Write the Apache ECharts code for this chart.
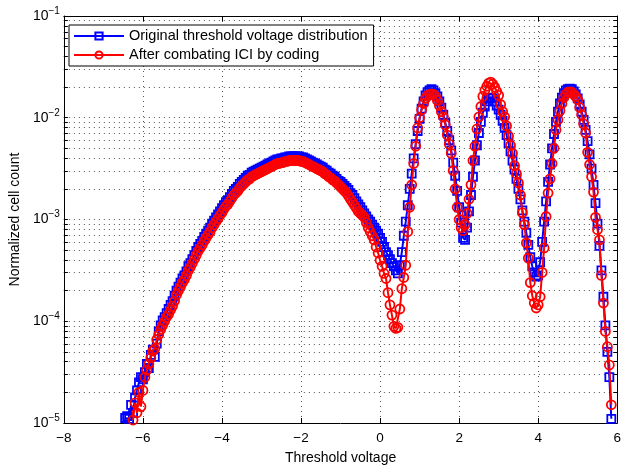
<!DOCTYPE html>
<html><head><meta charset="utf-8">
<script src="https://cdn.jsdelivr.net/npm/echarts@6/dist/echarts.min.js"></script>
<style>html,body{margin:0;padding:0;background:#fff}#c{width:624px;height:470px}</style>
</head><body><div id="c"></div>
<script>
const xs = [
-6.45,-6.4,-6.35,-6.3,-6.25,-6.2,-6.15,-6.1,-6.05,-6,
-5.95,-5.9,-5.85,-5.8,-5.75,-5.7,-5.65,-5.6,-5.55,-5.5,
-5.45,-5.4,-5.35,-5.3,-5.25,-5.2,-5.15,-5.1,-5.05,-5,
-4.95,-4.9,-4.85,-4.8,-4.75,-4.7,-4.65,-4.6,-4.55,-4.5,
-4.45,-4.4,-4.35,-4.3,-4.25,-4.2,-4.15,-4.1,-4.05,-4,
-3.95,-3.9,-3.85,-3.8,-3.75,-3.7,-3.65,-3.6,-3.55,-3.5,
-3.45,-3.4,-3.35,-3.3,-3.25,-3.2,-3.15,-3.1,-3.05,-3,
-2.95,-2.9,-2.85,-2.8,-2.75,-2.7,-2.65,-2.6,-2.55,-2.5,
-2.45,-2.4,-2.35,-2.3,-2.25,-2.2,-2.15,-2.1,-2.05,-2,
-1.95,-1.9,-1.85,-1.8,-1.75,-1.7,-1.65,-1.6,-1.55,-1.5,
-1.45,-1.4,-1.35,-1.3,-1.25,-1.2,-1.15,-1.1,-1.05,-1,
-0.95,-0.9,-0.85,-0.8,-0.75,-0.7,-0.65,-0.6,-0.55,-0.5,
-0.45,-0.4,-0.35,-0.3,-0.25,-0.2,-0.15,-0.1,-0.05,0,
0.05,0.1,0.15,0.2,0.25,0.3,0.35,0.4,0.45,0.5,
0.55,0.6,0.65,0.7,0.75,0.8,0.85,0.9,0.95,1,
1.05,1.1,1.15,1.2,1.25,1.3,1.35,1.4,1.45,1.5,
1.55,1.6,1.65,1.7,1.75,1.8,1.85,1.9,1.95,2,
2.05,2.1,2.15,2.2,2.25,2.3,2.35,2.4,2.45,2.5,
2.55,2.6,2.65,2.7,2.75,2.8,2.85,2.9,2.95,3,
3.05,3.1,3.15,3.2,3.25,3.3,3.35,3.4,3.45,3.5,
3.55,3.6,3.65,3.7,3.75,3.8,3.85,3.9,3.95,4,
4.05,4.1,4.15,4.2,4.25,4.3,4.35,4.4,4.45,4.5,
4.55,4.6,4.65,4.7,4.75,4.8,4.85,4.9,4.95,5,
5.05,5.1,5.15,5.2,5.25,5.3,5.35,5.4,5.45,5.5,
5.55,5.6,5.65,5.7,5.75,5.8,5.85];

const original = [
1.12e-5,1.17e-5,1.10e-5,1.51e-5,1.26e-5,1.78e-5,2.09e-5,2.51e-5,2.82e-5,2.69e-5,
3.16e-5,3.80e-5,3.47e-5,4.68e-5,5.25e-5,4.47e-5,6.03e-5,7.94e-5,9.12e-5,1.02e-4,
1.10e-4,1.20e-4,1.32e-4,1.45e-4,1.58e-4,1.78e-4,2.00e-4,2.19e-4,2.40e-4,2.63e-4,
2.82e-4,3.09e-4,3.47e-4,3.72e-4,4.07e-4,4.47e-4,4.90e-4,5.37e-4,5.75e-4,6.17e-4,
6.76e-4,7.24e-4,7.76e-4,8.32e-4,9.12e-4,9.77e-4,1.05e-3,1.12e-3,1.20e-3,1.29e-3,
1.38e-3,1.48e-3,1.55e-3,1.66e-3,1.78e-3,1.91e-3,2.00e-3,2.09e-3,2.24e-3,2.34e-3,
2.45e-3,2.57e-3,2.69e-3,2.75e-3,2.88e-3,2.95e-3,3.02e-3,3.09e-3,3.16e-3,3.24e-3,
3.31e-3,3.39e-3,3.47e-3,3.55e-3,3.63e-3,3.72e-3,3.80e-3,3.89e-3,3.89e-3,3.98e-3,
3.98e-3,4.07e-3,4.07e-3,4.17e-3,4.17e-3,4.17e-3,4.17e-3,4.17e-3,4.17e-3,4.07e-3,
4.07e-3,3.98e-3,3.89e-3,3.80e-3,3.72e-3,3.63e-3,3.55e-3,3.47e-3,3.39e-3,3.31e-3,
3.24e-3,3.09e-3,3.02e-3,2.88e-3,2.82e-3,2.69e-3,2.63e-3,2.51e-3,2.40e-3,2.34e-3,
2.24e-3,2.14e-3,2.04e-3,1.95e-3,1.82e-3,1.74e-3,1.62e-3,1.51e-3,1.41e-3,1.32e-3,
1.23e-3,1.15e-3,1.07e-3,1.00e-3,9.55e-4,8.91e-4,8.32e-4,7.76e-4,7.24e-4,6.61e-4,
6.03e-4,5.37e-4,4.79e-4,4.47e-4,4.07e-4,3.72e-4,3.47e-4,3.16e-4,2.95e-4,3.55e-4,
4.79e-4,6.92e-4,9.55e-4,1.38e-3,2.00e-3,2.82e-3,3.98e-3,5.50e-3,7.41e-3,9.77e-3,
1.23e-2,1.45e-2,1.66e-2,1.78e-2,1.86e-2,1.91e-2,1.86e-2,1.74e-2,1.62e-2,1.45e-2,
1.26e-2,1.07e-2,8.91e-3,7.41e-3,6.03e-3,4.79e-3,3.63e-3,2.69e-3,1.91e-3,1.32e-3,
9.33e-4,6.61e-4,6.31e-4,8.32e-4,1.20e-3,1.74e-3,2.63e-3,3.80e-3,5.37e-3,7.08e-3,
9.12e-3,1.12e-2,1.29e-2,1.45e-2,1.55e-2,1.58e-2,1.55e-2,1.45e-2,1.32e-2,1.20e-2,
1.07e-2,9.33e-3,7.94e-3,6.76e-3,5.62e-3,4.68e-3,3.80e-3,3.09e-3,2.51e-3,2.00e-3,
1.58e-3,1.23e-3,9.55e-4,7.41e-4,5.62e-4,4.27e-4,3.47e-4,3.02e-4,2.75e-4,2.82e-4,
3.80e-4,6.03e-4,9.55e-4,1.51e-3,2.34e-3,3.47e-3,5.01e-3,6.92e-3,9.12e-3,1.15e-2,
1.38e-2,1.58e-2,1.74e-2,1.86e-2,1.91e-2,1.93e-2,1.91e-2,1.82e-2,1.70e-2,1.55e-2,
1.35e-2,1.15e-2,9.55e-3,7.59e-3,5.89e-3,4.37e-3,3.16e-3,2.19e-3,1.45e-3,9.12e-4,
5.50e-4,3.16e-4,1.74e-4,9.12e-5,5.01e-5,2.82e-5,1.10e-5];

const coded = [
null,null,null,null,1.07e-5,1.58e-5,1.26e-5,2.00e-5,1.45e-5,2.09e-5,
2.82e-5,3.31e-5,3.80e-5,4.37e-5,5.13e-5,5.37e-5,6.61e-5,7.41e-5,8.32e-5,9.12e-5,
1.00e-4,1.10e-4,1.17e-4,1.29e-4,1.41e-4,1.58e-4,1.82e-4,2.00e-4,2.19e-4,2.40e-4,
2.57e-4,2.82e-4,3.16e-4,3.39e-4,3.72e-4,4.07e-4,4.47e-4,4.90e-4,5.25e-4,5.62e-4,
6.17e-4,6.61e-4,7.08e-4,7.59e-4,8.32e-4,8.91e-4,9.55e-4,1.02e-3,1.10e-3,1.17e-3,
1.26e-3,1.35e-3,1.41e-3,1.51e-3,1.62e-3,1.74e-3,1.82e-3,1.91e-3,2.04e-3,2.14e-3,
2.24e-3,2.34e-3,2.45e-3,2.51e-3,2.63e-3,2.69e-3,2.75e-3,2.82e-3,2.88e-3,2.95e-3,
3.02e-3,3.09e-3,3.16e-3,3.24e-3,3.31e-3,3.39e-3,3.47e-3,3.55e-3,3.55e-3,3.63e-3,
3.63e-3,3.72e-3,3.72e-3,3.80e-3,3.80e-3,3.80e-3,3.80e-3,3.80e-3,3.80e-3,3.72e-3,
3.72e-3,3.63e-3,3.55e-3,3.47e-3,3.39e-3,3.31e-3,3.24e-3,3.16e-3,3.09e-3,3.02e-3,
2.95e-3,2.82e-3,2.75e-3,2.63e-3,2.57e-3,2.45e-3,2.40e-3,2.29e-3,2.19e-3,2.09e-3,
2.00e-3,1.91e-3,1.82e-3,1.70e-3,1.58e-3,1.48e-3,1.38e-3,1.29e-3,1.20e-3,1.15e-3,
1.10e-3,1.05e-3,9.33e-4,8.32e-4,7.59e-4,6.92e-4,6.31e-4,5.37e-4,4.68e-4,3.98e-4,
3.47e-4,2.95e-4,2.63e-4,1.91e-4,1.45e-4,1.15e-4,8.91e-5,8.51e-5,8.71e-5,1.32e-4,
2.09e-4,2.69e-4,3.55e-4,7.59e-4,1.32e-3,2.19e-3,3.55e-3,5.25e-3,7.94e-3,1.00e-2,
1.20e-2,1.38e-2,1.55e-2,1.66e-2,1.70e-2,1.72e-2,1.70e-2,1.62e-2,1.48e-2,1.32e-2,
1.15e-2,1.02e-2,8.51e-3,6.76e-3,5.50e-3,4.47e-3,3.02e-3,2.00e-3,1.32e-3,1.00e-3,
8.32e-4,7.76e-4,8.91e-4,1.15e-3,1.58e-3,2.19e-3,3.80e-3,5.25e-3,7.76e-3,1.02e-2,
1.29e-2,1.62e-2,1.86e-2,2.04e-2,2.19e-2,2.24e-2,2.14e-2,2.00e-2,1.82e-2,1.66e-2,
1.35e-2,1.15e-2,1.02e-2,8.32e-3,6.61e-3,5.37e-3,4.47e-3,3.39e-3,2.82e-3,2.29e-3,
1.74e-3,1.17e-3,8.91e-4,5.89e-4,4.17e-4,2.40e-4,1.78e-4,1.51e-4,1.35e-4,1.45e-4,
1.74e-4,3.02e-4,5.25e-4,1.07e-3,1.82e-3,2.51e-3,3.55e-3,5.01e-3,7.59e-3,9.55e-3,
1.17e-2,1.38e-2,1.58e-2,1.70e-2,1.78e-2,1.80e-2,1.78e-2,1.70e-2,1.62e-2,1.51e-2,
1.26e-2,1.07e-2,8.71e-3,7.08e-3,4.57e-3,3.47e-3,2.63e-3,1.86e-3,1.05e-3,7.94e-4,
6.31e-4,2.82e-4,1.51e-4,7.94e-5,5.62e-5,3.72e-5,1.51e-5];

const seriesNames = ['Original threshold voltage distribution', 'After combating ICI by coding'];
const xTicks = [-8, -6, -4, -2, 0, 2, 4, 6];
const yMajor = [1e-5, 1e-4, 1e-3, 1e-2, 1e-1];
const yTicks = [
1e-5,2e-5,3e-5,4e-5,5e-5,6e-5,7e-5,8e-5,9e-5,
1e-4,2e-4,3e-4,4e-4,5e-4,6e-4,7e-4,8e-4,9e-4,
1e-3,2e-3,3e-3,4e-3,5e-3,6e-3,7e-3,8e-3,9e-3,
1e-2,2e-2,3e-2,4e-2,5e-2,6e-2,7e-2,8e-2,9e-2,1e-1];

const FONT = 'Liberation Sans';
function pairs(vals) {
  const out = [];
  xs.forEach((x, i) => { if (vals[i] != null) out.push([x, vals[i]]); });
  return out;
}
const gridLine = { show: true, lineStyle: { color: '#555', width: 1, type: [1, 4] } };
const blackLine = { show: true, onZero: false, lineStyle: { color: '#000', width: 1 } };

const chart = echarts.init(document.getElementById('c'), null, { renderer: 'canvas' });
chart.setOption({
  animation: false,
  backgroundColor: '#fff',
  grid: { left: 62, right: 4, top: 16, bottom: 41, containLabel: false },
  legend: {
    left: 69, top: 25, orient: 'vertical',
    backgroundColor: '#fff', borderColor: '#000', borderWidth: 1,
    padding: [3, 6, 3, 4], itemWidth: 50, itemHeight: 9, itemGap: 3,
    textStyle: { fontFamily: FONT, fontSize: 14.5, lineHeight: 16, color: '#000' },
    data: seriesNames
  },
  xAxis: [{
    type: 'value', min: xTicks[0], max: xTicks[xTicks.length - 1], interval: 2,
    position: 'bottom',
    axisLine: blackLine,
    axisTick: { show: true, inside: true, length: 5, lineStyle: { color: '#000' } },
    axisLabel: { fontFamily: FONT, fontSize: 13.5, color: '#000', margin: 8,
      formatter: v => (v < 0 ? '\u2212' + (-v) : String(v)) },
    splitLine: gridLine,
    name: 'Threshold voltage', nameLocation: 'middle', nameGap: 28,
    nameTextStyle: { fontFamily: FONT, fontSize: 14, color: '#000' }
  }, {
    type: 'value', min: xTicks[0], max: xTicks[xTicks.length - 1], interval: 2,
    position: 'top',
    axisLine: blackLine,
    axisTick: { show: true, inside: true, length: 5, lineStyle: { color: '#000' } },
    axisLabel: { show: false }, splitLine: { show: false }
  }],
  yAxis: [{
    type: 'log', logBase: 10, min: yMajor[0], max: yMajor[yMajor.length - 1],
    position: 'left',
    axisLine: blackLine,
    axisTick: { show: true, inside: true, length: 4, customValues: yTicks, lineStyle: { color: '#000' } },
    axisLabel: {
      customValues: yMajor, margin: 4,
      formatter: v => '{b|10}{s|\u2212' + (-Math.round(Math.log10(v))) + '}',
      rich: {
        b: { fontFamily: FONT, fontSize: 14, color: '#000' },
        s: { fontFamily: FONT, fontSize: 10, color: '#000', padding: [0, 0, 10, 0] }
      }
    },
    splitLine: gridLine,
    name: 'Normalized cell count', nameLocation: 'middle', nameGap: 41,
    nameTextStyle: { fontFamily: FONT, fontSize: 14, color: '#000' }
  }, {
    type: 'log', logBase: 10, min: yMajor[0], max: yMajor[yMajor.length - 1],
    position: 'right',
    axisLine: blackLine,
    axisTick: { show: true, inside: true, length: 4, customValues: yTicks, lineStyle: { color: '#000' } },
    axisLabel: { show: false }, splitLine: { show: false }
  }],
  series: [{
    name: seriesNames[0], type: 'line', xAxisIndex: 0, yAxisIndex: 0,
    data: pairs(original), symbol: 'rect', symbolSize: 8, showAllSymbol: true,
    lineStyle: { color: '#0000ff', width: 2 },
    itemStyle: { color: 'rgba(255,255,255,0)', borderColor: '#0000ff', borderWidth: 1.8 },
    z: 3
  }, {
    name: seriesNames[1], type: 'line', xAxisIndex: 0, yAxisIndex: 0,
    data: pairs(coded), symbol: 'circle', symbolSize: 9, showAllSymbol: true,
    lineStyle: { color: '#ff0000', width: 2 },
    itemStyle: { color: 'rgba(255,255,255,0)', borderColor: '#ff0000', borderWidth: 1.8 },
    z: 4
  }]
});
</script>
</body></html>
